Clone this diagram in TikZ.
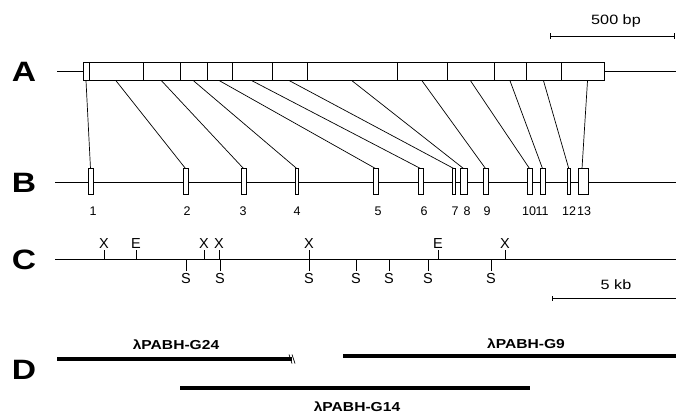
\documentclass[tikz,border=0pt]{standalone}
\usepackage{fontspec}
\setmainfont{Liberation Sans}
\newfontfamily\widefont{Liberation Sans}[FakeStretch=1.2]
\begin{document}
\begin{tikzpicture}[x=1pt,y=-1pt,
  rowline/.style={line width=0.9pt},
  seg/.style={draw, line width=1pt, inner sep=0pt, outer sep=0pt, minimum height=18.5pt, anchor=center},
  exon/.style={draw, line width=0.8pt, fill=white, inner sep=0pt, outer sep=0pt, minimum height=26pt},
  link/.style={line width=0.7pt},
  rowlbl/.style={font=\fontsize{28}{28}\selectfont\widefont\bfseries, inner sep=0pt},
  numlbl/.style={font=\fontsize{12.5}{12.5}\selectfont, inner sep=0pt},
  sitelbl/.style={font=\fontsize{14.5}{14.5}\selectfont, inner sep=1.8pt},
  scalelbl/.style={font=\fontsize{13.5}{13.5}\selectfont\widefont, inner sep=0pt},
  clone/.style={line width=3.2pt},
  clonelbl/.style={font=\fontsize{13}{13}\selectfont\widefont\bfseries, inner sep=0pt}]
\useasboundingbox (0,0) rectangle (676,417);

% scale bar 500 bp
\coordinate (bpL) at (550,36);
\coordinate (bpR) at (674,36);
\draw[rowline] (bpL) -- (bpR);
\draw[rowline] ([yshift=-3pt]bpL) -- ([yshift=3pt]bpL);
\draw[rowline] ([yshift=-3pt]bpR) -- ([yshift=3pt]bpR);
\node[scalelbl] (bplbl) at (616,21) {500 bp};

% row letters
\node[rowlbl] (lA) at (24,72) {A};
\node[rowlbl] (lB) at (24,183) {B};
\node[rowlbl] (lC) at (24,260) {C};
\node[rowlbl] (lD) at (24,370) {D};

% row A : cDNA
\foreach \i/\a/\b in {1/83/89, 2/89/143, 3/143/180, 4/180/207, 5/207/232, 6/232/272,
  7/272/307, 8/307/397, 9/397/447, 10/447/494, 11/494/526, 12/526/561, 13/561/604}
  \node[seg, minimum width={(\b-\a)*1pt}] (s\i) at ({(\a+\b)/2},71.5) {};
\coordinate (aL) at (57,71.5);
\coordinate (aR) at (676,71.5);
\draw[rowline] (aL) -- (s1.west);
\draw[rowline] (s13.east) -- (aR);

% row B : gene
\coordinate (bL) at (55,182);
\coordinate (bR) at (676,182);
\draw[rowline] (bL) -- (bR);
\foreach \i/\a/\b/\t in {1/88/93/93, 2/183/188/187, 3/241/246/243, 4/295/298.5/297, 5/373/378/378,
  6/418/423/424, 7/452/455.5/455, 8/460/467/467, 9/483/488/487, 10/527/532/529,
  11/540/545/542, 12/567/570.5/569, 13/578/588/584}
  {
  \node[exon, minimum width={(\b-\a)*1pt}] (e\i) at ({(\a+\b)/2},181.5) {};
  \node[numlbl] (n\i) at (\t,211) {\i};
  }
\foreach \i in {1,...,12}
  \draw[link] (s\i.south) -- (e\i.north);
\draw[link] ([xshift=5pt]s13.south) -- ([xshift=-1pt]e13.north);

% row C : restriction map
\coordinate (cL) at (55,259);
\coordinate (cR) at (676,259);
\draw[rowline] (cL) -- (cR);
\foreach \k/\x/\l in {1/104/X, 2/136/E, 3/204/X, 4/219/X, 5/309/X, 6/438/E, 7/505/X}
  {
  \coordinate (cu\k) at (\x,259);
  \node[sitelbl, anchor=south] (u\k) at (\x,250) {\l};
  \draw[rowline] (cu\k) -- (u\k.south);
  }
\foreach \k/\x in {1/186, 2/220, 3/309, 4/356, 5/389, 6/428, 7/491}
  {
  \coordinate (cd\k) at (\x,259);
  \node[sitelbl, anchor=north] (d\k) at (\x,271) {S};
  \draw[rowline] (cd\k) -- (d\k.north);
  }

% scale bar 5 kb
\coordinate (kbL) at (552,298);
\coordinate (kbR) at (676,298);
\draw[rowline] (kbL) -- (kbR);
\draw[rowline] ([yshift=-2.5pt]kbL) -- ([yshift=2.5pt]kbL);
\node[scalelbl] (kblbl) at (616,285) {5 kb};

% row D : clones
\coordinate (g24L) at (57,359);
\coordinate (g24R) at (292,359);
\draw[clone] (g24L) -- (g24R);
\draw[line width=0.7pt] ([xshift=-3pt,yshift=4.5pt]g24R) -- ([xshift=0pt,yshift=-4.5pt]g24R);
\draw[line width=0.7pt] ([xshift=0pt,yshift=4.5pt]g24R) -- ([xshift=3pt,yshift=-4.5pt]g24R);
\node[clonelbl] (t24) at (176,345) {λPABH-G24};

\coordinate (g9L) at (343,356);
\coordinate (g9R) at (676,356);
\draw[clone] (g9L) -- (g9R);
\node[clonelbl] (t9) at (526,344) {λPABH-G9};

\coordinate (g14L) at (180,388);
\coordinate (g14R) at (530,388);
\draw[clone] (g14L) -- (g14R);
\node[clonelbl] (t14) at (357,407) {λPABH-G14};
\end{tikzpicture}
\end{document}
